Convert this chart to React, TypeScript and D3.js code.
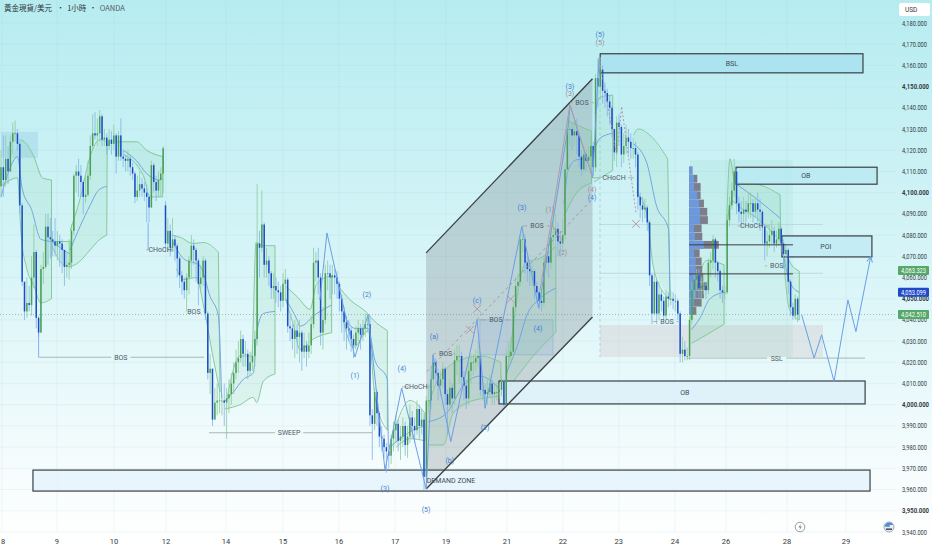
import * as d3 from "d3";

type Bar = [number, number, number, number?]; // close, high, low, open when it gapped
type Pt = [number, number]; // bar number, price

const bars08: Bar[] = [[4112,4120,4098,4103],[4106,4127,4098],[4116,4127,4103],[4110,4122,4104],[4124,4127,4110],[4128,4133,4118],[4128,4134,4124],[4123,4130,4120],[4094,4124,4090],[4058,4095,4056],[4044,4058,4040],[4048,4060,4041],[4047,4056,4044],[4060,4070,4042],[4072,4085,4055],[4041,4073,4036],[4034,4042,4032],[4064,4066,4034],[4065,4072,4057],[4084,4090,4064],[4079,4090,4066],[4078,4088,4069],[4077,4082,4070],[4075,4088,4070]];
const bars09: Bar[] = [[4077,4082,4068],[4076,4080,4065],[4073,4078,4062],[4065,4073,4056],[4066,4072,4060],[4067,4078,4059],[4082,4085,4064],[4108,4109,4080],[4110,4113,4100],[4108,4116,4098],[4105,4113,4098],[4098,4106,4090],[4099,4108,4095],[4108,4115,4098],[4122,4127,4106],[4128,4137,4120],[4127,4138,4125],[4128,4135,4122],[4136,4139,4124],[4125,4137,4122],[4126,4130,4122],[4122,4128,4118],[4125,4130,4120],[4123,4129,4118]];
const bars10: Bar[] = [[4127,4132,4120],[4117,4128,4109],[4127,4129,4115],[4117,4135,4115],[4116,4120,4112],[4115,4118,4110],[4116,4120,4110],[4112,4118,4108],[4109,4114,4106],[4098,4110,4095],[4101,4108,4096],[4104,4110,4098],[4102,4107,4098],[4100,4105,4096],[4098,4104,4086],[4093,4099,4086],[4113,4115,4093],[4105,4114,4100],[4101,4108,4096],[4106,4110,4098],[4109,4112,4098],[4121,4122,4100]];
const bars12: Bar[] = [[4076,4096,4072,4094],[4082,4088,4072],[4074,4085,4070],[4078,4088,4072],[4075,4080,4068],[4069,4076,4060],[4061,4070,4055],[4058,4063,4052],[4054,4060,4050],[4060,4062,4044],[4068,4070,4052],[4075,4080,4060],[4073,4078,4066],[4068,4074,4058],[4057,4069,4047],[4060,4066,4054],[4068,4070,4056],[4043,4069,4040],[4015,4044,4012],[4017,4024,4005],[3993,4017,3990],[4001,4008,3993],[4002,4010,3995],[4002,4006,3996],[4002,4005,3995]];
const bars14: Bar[] = [[4001,4010,3990],[4003,4008,3984],[4005,4012,3996],[4010,4015,4000],[4015,4020,4005],[4020,4026,4012],[4022,4030,4015],[4031,4035,4020],[4024,4033,4018],[4024,4030,4018],[4016,4026,4012],[4020,4025,4014],[4023,4028,4016],[4031,4035,4018],[4076,4104,4028],[4074,4082,4060],[4085,4101,4072],[4066,4086,4060],[4068,4074,4060],[4062,4070,4056],[4055,4063,4050],[4056,4062,4050],[4054,4060,4048],[4053,4058,4046],[4049,4056,4044]];
const bars15: Bar[] = [[4057,4062,4046],[4059,4064,4050],[4037,4060,4034],[4036,4042,4030],[4031,4038,4026],[4035,4040,4022],[4032,4038,4024],[4034,4040,4020],[4025,4035,4016],[4028,4034,4022],[4025,4030,4018],[4028,4034,4022],[4038,4042,4024],[4067,4074,4036],[4068,4072,4058],[4060,4074,4052],[4034,4062,4028],[4040,4046,4026],[4062,4066,4038],[4062,4068,4054],[4060,4066,4050],[4061,4066,4052],[4060,4064,4052],[4057,4063,4050]];
const bars16: Bar[] = [[4050,4058,4044],[4044,4052,4034],[4039,4046,4030],[4036,4042,4026],[4035,4040,4030],[4031,4037,4025],[4028,4033,4022],[4034,4037,4026],[4036,4040,4030],[4033,4038,4026],[4036,4040,4030],[4038,4043,4032],[4038,4042,4034],[3995,4042,3990],[3991,3998,3974],[4006,4008,3988],[3996,4007,3990],[3985,3997,3980],[3984,3990,3978],[3980,3986,3975],[3978,3982,3968],[3976,3980,3970],[3984,3986,3972],[3988,3992,3978]];
const bars17: Bar[] = [[3991,3995,3982],[3983,3993,3978],[3985,3990,3974],[3990,3994,3980],[3981,3992,3976],[3985,3990,3975],[3994,4000,3982],[3990,3997,3984],[3988,3994,3982],[3998,4002,3986],[3990,4000,3984],[3993,3998,3986],[3966,3996,3960],[4002,4004,3964],[4002,4010,3996],[4012,4018,3998],[4020,4024,4008],[4015,4022,4010],[4009,4017,4002],[4012,4016,4004],[4017,4020,4008],[4005,4018,4000]];
const bars19: Bar[] = [[4000,4007,3986],[4008,4012,3998],[4003,4010,3996],[4021,4026,4000],[4023,4028,4014],[4023,4028,4010],[4013,4025,4008],[4009,4016,4002],[4003,4012,3998],[4016,4020,4000],[4020,4024,4010],[4020,4024,4014],[4022,4026,4016],[4023,4030,4018],[4007,4025,4004],[4007,4012,4002],[4005,4010,3998],[4006,4012,4000],[4010,4014,4004],[4005,4012,4000],[4006,4010,4000],[4006,4010,4002],[4007,4010,4003],[4011,4014,4004],[4000,4012,3999]];
const bars21: Bar[] = [[4023,4026,3999],[4023,4030,4018],[4025,4032,4020],[4046,4048,4022],[4056,4060,4044],[4058,4062,4052],[4078,4080,4056],[4078,4084,4072],[4067,4080,4062],[4064,4070,4058],[4063,4068,4056],[4063,4066,4056],[4056,4064,4050],[4053,4058,4048],[4049,4054,4045],[4048,4054,4044],[4067,4070,4046],[4070,4074,4062],[4067,4076,4060],[4079,4084,4064],[4080,4090,4074],[4083,4090,4074],[4077,4086,4070],[4076,4082,4070],[4080,4088,4072]];
const bars22: Bar[] = [[4111,4114,4078],[4130,4135,4108],[4130,4140,4122],[4127,4133,4120],[4129,4134,4122],[4127,4135,4118],[4117,4128,4112],[4111,4120,4108],[4118,4122,4110],[4115,4120,4110],[4117,4122,4112],[4122,4126,4112],[4112,4124,4108],[4154,4156,4110],[4150,4163,4140],[4158,4164,4144],[4148,4160,4142],[4147,4152,4140],[4143,4149,4136],[4140,4146,4132],[4130,4141,4126],[4119,4130,4115],[4133,4136,4112]];
const bars23: Bar[] = [[4131,4137,4122],[4118,4132,4112],[4122,4128,4114],[4126,4132,4118],[4124,4130,4118],[4121,4128,4116],[4121,4126,4116],[4118,4124,4112],[4098,4119,4092],[4094,4100,4088],[4092,4098,4086],[4093,4097,4088],[4086,4094,4082],[4061,4087,4056],[4043,4062,4038],[4058,4063,4042],[4043,4059,4038],[4052,4058,4040],[4049,4054,4044],[4042,4051,4040],[4051,4054,4040],[4050,4053,4046],[4050,4054,4047],[4049,4053,4045]];
const bars24: Bar[] = [[4049,4052,4044],[4043,4050,4040],[4024,4044,4020],[4026,4032,4020],[4023,4030,4021],[4023,4027,4021],[4040,4042,4021],[4054,4058,4038],[4059,4062,4050],[4061,4064,4054],[4055,4064,4050],[4056,4060,4050],[4056,4062,4052],[4054,4058,4050],[4067,4069,4052],[4068,4072,4060],[4078,4080,4064],[4067,4079,4060],[4063,4068,4058],[4054,4064,4050],[4053,4056,4048],[4053,4056,4050]];
const bars26: Bar[] = [[4087,4090,4052],[4094,4098,4084],[4101,4105,4092],[4110,4116,4098],[4095,4111,4090],[4091,4098,4086],[4090,4096,4084],[4092,4098,4086],[4091,4096,4086],[4095,4100,4088],[4095,4100,4088],[4091,4097,4086],[4095,4098,4088],[4092,4100,4086],[4091,4097,4082],[4084,4092,4076],[4076,4085,4068],[4077,4082,4070],[4080,4084,4074],[4082,4087,4076],[4076,4084,4072],[4078,4082,4074],[4083,4086,4075],[4076,4084,4072],[4071,4078,4064],[4073,4076,4066]];
const bars28: Bar[] = [[4058,4074,4052],[4046,4059,4042],[4042,4048,4040],[4050,4052,4040],[4042.5,4051,4039]];

const priceTicks = [4180,4170,4160,4150,4140,4130,4120,4110,4100,4090,4080,4070,4060,4050,4040,4030,4020,4010,4000,3990,3980,3970,3960,3950,3940];
const dayLabels = ["8","9","10","12","14","15","16","17","19","21","22","23","24","26","28","29"];
const dayBars = [0.4,23.8,48.1,70.2,95.7,120,143.8,167.7,189.4,215.3,239.1,262.9,286.8,308.5,334.5,359.6];

// anchored channels: upper, lower, middle
const channels: [Pt[], Pt[], Pt[]][] = [
  [[[7.8,4125],[9.9,4124],[14,4117],[17.6,4107],[21.5,4106]], [[0,4103],[7,4107],[8.5,4081],[11,4064],[14,4056],[17,4048],[21.5,4050]], [[0,4098],[3,4109],[7,4117],[9,4102],[13,4092],[17,4078],[21.5,4077]]],
  [[[21.6,4077],[29.4,4077]], [[21.6,4075],[27.2,4065.5],[29.4,4065]], [[21.6,4077],[26.5,4073],[29.4,4071]]],
  [[[29.4,4082],[33.6,4097],[37.9,4117],[42.1,4125],[45.2,4124]], [[29.4,4065],[32.9,4067],[37.9,4073],[42.1,4078],[45,4080]], [[29.4,4073],[33.6,4084],[37.9,4094],[41.4,4101],[45,4103]]],
  [[[49.2,4124],[53.5,4124],[57.7,4124],[62,4120],[68.8,4117]], [[52,4118],[60.6,4108],[63.4,4098],[68.8,4098]], [[52,4120],[57.7,4115],[62,4109],[67.6,4106],[68.8,4107]]],
  [[[72.6,4080],[76.2,4079],[81.8,4076],[86.1,4076.5],[92.5,4072]], [[74.7,4064],[77.6,4059],[83.3,4060],[86.1,4047],[90.4,4021.5],[93.2,4006]], [[73.3,4076.5],[77.6,4069],[84.7,4065.5],[89,4051],[92.5,4042],[93.9,4003]]],
  [[[96,4002],[101.7,4023],[106.7,4023],[108.5,4076.5],[111.6,4075],[116.6,4075]], [[95.3,3998],[101.7,4000],[107.4,4003.5],[108.8,4001],[111.6,4011],[116.6,4014.5]], [[94.6,4001],[98.9,4006],[103.1,4012],[107.4,4015],[108.8,4034],[111.6,4043],[116.6,4044]]],
  [[[121,4056],[126,4051],[131.5,4045],[134.3,4057],[140.7,4061]], [[121,4050],[124.8,4036],[127.2,4026],[132.9,4031],[140.7,4034]], [[121,4050],[126,4040],[127.2,4037],[134.3,4043],[140.7,4047]]],
  [[[143.5,4056],[148.5,4049.5],[155.6,4043.5],[158.4,4040],[164.4,4035]], [[145.6,4040],[149.9,4027],[156.3,4035],[159.1,4004],[164.4,3988]], [[145.6,4043],[150.6,4036],[156.3,4036],[159.1,4021],[164.4,4012],[164.8,3980]]],
  [[[165.2,3980],[168.3,3991],[174,4002],[180.4,3996]], [[168.3,3980],[174,3984],[180.4,3983]], [[165.5,3980],[169.8,3984],[175.4,3988],[180,3990]]],
  [[[181.8,3999],[184,4007],[189.6,4017],[195.3,4021],[203.8,4023],[212.7,4020]], [[181.8,3981],[188.2,3981],[192.4,3996],[200.9,4002],[212.7,4004]], [[181.8,3992],[189.6,3996],[196.7,4009],[203.8,4013.5],[212.7,4007]]],
  [[[214.4,4007],[218,4037],[219.4,4049],[223.7,4067.5],[229.3,4069],[236.1,4074.6]], [[215.1,4007],[220.8,4015],[226.5,4023],[236.1,4034]], [[215.1,4015],[220.1,4029],[223.7,4042],[229.3,4050],[236.1,4055]]],
  [[[241.4,4134],[245,4132],[251.3,4129]], [[239.6,4089],[245,4100],[251.3,4104.5]], [[239.6,4095],[241.4,4111],[245,4115.5],[251.3,4116]]],
  [[[252.8,4137.5],[254.9,4145],[260.3,4146]], [[252.3,4105],[260.3,4110.5]], [[252,4118.6],[254.9,4125.7],[260.3,4128]]],
  [[[269.1,4127],[271.2,4130],[276.2,4127],[283.7,4116]], [[270.5,4100],[274.8,4090],[277.6,4065],[283.3,4051],[284.7,4049.5]], [[269.1,4123],[274.8,4114],[279,4093.5],[284,4083],[284.7,4051]]],
  [[[293.2,4040],[300.3,4068],[307.7,4066]], [[293.9,4029],[300.3,4033],[307.7,4038]], [[293.9,4035.5],[297.5,4041],[301.7,4050],[307.7,4053]]],
  [[[308.8,4087],[310.2,4116],[312.3,4105],[321.6,4104],[331.5,4099]], [[308.8,4084],[310.9,4096],[314.5,4093],[321.6,4088],[331.8,4077]], [[313,4104],[321.6,4097],[331.5,4088]]],
  [[[332.9,4075],[335.8,4067],[339.7,4063]], [[332.9,4071],[335.5,4045],[339.7,4040]], [[332.9,4071],[335.8,4057.5],[339.7,4053]]],
];

const waveDown: Pt[] = [[135.7,4049.4],[138.7,4081],[150.6,4022.5],[156.2,4042.5],[163.4,3969.2],[170.5,4007.9],[180.9,3960.3]];
const waveUp: Pt[] = [[180.9,3960.3],[183.8,4023.5],[191.4,3982.6],[202.6,4040],[206,3998.5],[221.6,4084],[228.8,4045.7],[241.3,4130.6],[242.1,4141.4],[251.8,4107],[254.5,4163.6]];
const wavePink: Pt[] = [[229.4,4054],[242.1,4141.4],[251.8,4107]];
const wavePinkSmall: Pt[] = [[233.6,4086.4],[239,4076.9]];
const wavePinkDash: Pt[] = [[254.5,4163.6],[262,4117.8],[264.1,4140.6],[270.2,4090.5]];
const trendDash: Pt[] = [[181.2,4015.6],[251.4,4096.6]];
const projection: Pt[] = [[340.7,4042.4],[346,4022],[349.2,4033],[354.5,4011],[360.4,4049.4],[363.8,4034.5],[370.1,4069.9]];
const channelShape: Pt[] = [[180.9,4071.6],[251.7,4153.7],[251.7,4041.4],[180.9,3960.3]];

const zoneNames = ["BSL","OB","POI","OB","DEMAND ZONE"];
const zoneBars: Pt[] = [[255,366.8],[312.8,372.8],[332.3,370.6],[211.9,367.7],[13.6,369.8]];
const zonePrices: Pt[] = [[4165.5,4156.5],[4112,4104],[4079.6,4069.7],[4011.2,4000.4],[3969.2,3959.3]];
const zoneFills = ["#a6e0ef","#b8e8f2","#bfeaf3","#dcf0fa","#e3f3fb"];
const zoneTextBars = [311,342.5,351,291,191.5];

// structure labels: name, start bar, end bar, label bar, price
const structure: [string, number, number, number, number][] = [
  ["BOS",16,86.4,51,4022.4],["SWEEP",88.5,157.9,122.6,3986.8],["CHoCH",62.6,71.5,67.7,4073],["BOS",77.9,86.4,82.1,4043.8],
  ["CHoCH",173.2,180.9,176.6,4008.4],["BOS",183.8,192.3,189.2,4024],["BOS",202.6,216.6,210.6,4040],["BOS",221.7,234.5,228.1,4084.3],
  ["BOS",242.1,252.3,247.2,4142.4],["CHoCH",251.9,269.4,260.9,4107],["BOS",277.4,289,283.4,4039.2],["CHoCH",314.5,327.2,319.4,4084.3],
  ["BOS",325.1,334.9,330.1,4065.5],["SSL",291.9,367.7,330.1,4022],
];
const blueLabels: [string, number, number][] = [["(2)",155.7,4051.8],["(1)",150.6,4014],["(4)",170.6,4016.9],["(3)",163.4,3960.3],["(5)",180.9,3950.8],["(a)",184.3,4032],["(b)",191,3973.5],["(c)",202.6,4049],["(2)",206,3989.5],["(4)",228.5,4035.8],["(3)",221.7,4092.8],["(3)",242.1,4149.9],["(5)",254.9,4174.4],["(4)",251.5,4097.5]];
const pinkLabels: [string, number, number][] = [["(3)",242.1,4146.6],["(5)",254.9,4170.7],["(4)",251.5,4101.3],["(1)",233.6,4091.9],["(2)",239.1,4071.6]];
const crosses: Pt[] = [[202.6,4045.2],[199.6,4035.3],[216.9,4049.9],[270.2,4085.3]];

const profileBlue = [10,15,15,25,30,33,33,15,18,45,15,20,20,25,22,22,15,10];
const profileTotal = [10,25,35,35,45,55,57,38,40,90,32,38,40,42,55,45,38,22];

const lastPrices = [4063.323,4053.099,4042.51];
const lastColors = ["#55a868","#1f49c8","#55a868"];

const W = 932, H = 550;
const allBars = [...bars08,...bars09,...bars10,...bars12,...bars14,...bars15,...bars16,...bars17,...bars19,...bars21,...bars22,...bars23,...bars24,...bars26,...bars28];
const x = d3.scaleLinear().domain([0, 339]).range([1, 797.65]);
const y = d3.scaleLinear().domain([3940, 4180]).range([532, 23]);
const fmt = d3.format(",.3f");
const pen = d3.line<Pt>().x(d => x(d[0])).y(d => y(d[1]));
const smooth = d3.line<Pt>().x(d => x(d[0])).y(d => y(d[1])).curve(d3.curveMonotoneX);
const rows = d3.scaleBand<number>().domain(d3.range(profileBlue.length)).range([y(4112.3), y(4042.4)]).paddingInner(0.06);
const vol = d3.scaleLinear().domain([0, 100]).range([0, 33]);

const TXT = "Roboto, sans-serif";
const GREEN = "#4a9e58", BLUE = "#1c4cc8", WAVE = "#6a9fe4", BAND = "#7cc592", PINK = "#b59aa6";

function Box({ b, p, fill, opacity, stroke, sw }: { b: Pt; p: Pt; fill: string; opacity?: number; stroke?: string; sw?: number }) {
  return <rect x={x(b[0])} y={y(p[0])} width={x(b[1]) - x(b[0])} height={y(p[1]) - y(p[0])} fill={fill} fillOpacity={opacity} stroke={stroke} strokeWidth={sw} />;
}

export default function App() {
  return (
    <svg width={W} height={H} viewBox={`0 0 ${W} ${H}`} style={{ position: "fixed", left: 0, top: 0 }} fontFamily={TXT}>
      <defs>
        <linearGradient id="bg" x1="0" y1="0" x2="0" y2="1">
          <stop offset="0" stopColor="#b6ecf0" />
          <stop offset="0.5" stopColor="#d9f5f8" />
          <stop offset="0.95" stopColor="#fdfefe" />
          <stop offset="1" stopColor="#ffffff" />
        </linearGradient>
        <marker id="arrow" viewBox="0 0 10 10" refX="9" refY="5" markerWidth="7" markerHeight="7" orient="auto">
          <path d="M1,1 L9,5 L1,9" fill="none" stroke={WAVE} strokeWidth="1.4" />
        </marker>
      </defs>
      <rect width={W} height={H} fill="url(#bg)" />

      {/* grid */}
      {priceTicks.map(p => <line key={p} x1={0} x2={896} y1={y(p)} y2={y(p)} stroke="#9cc4cc" strokeOpacity={0.14} />)}
      {dayBars.map(b => <line key={b} x1={x(b)} x2={x(b)} y1={0} y2={532} stroke="#9cc4cc" strokeOpacity={0.14} />)}
      <line x1={0} x2={896} y1={y(4042.51)} y2={y(4042.51)} stroke="#8a9a9e" strokeWidth={0.7} strokeDasharray="1 2" />

      {/* shaded areas */}
      <Box b={[0, 15.7]} p={[4128.7, 4116.4]} fill="#6fb0dc" opacity={0.22} />
      <path d={pen(channelShape) + "Z"} fill="#70787c" fillOpacity={0.27} />
      <Box b={[203.8, 234.9]} p={[4040, 4023.5]} fill="#6f9fd8" opacity={0.14} stroke="#7fa8dc" sw={0.5} />
      <Box b={[254.9, 349.8]} p={[4037.6, 4022.5]} fill="#d0c0c4" opacity={0.32} />
      <Box b={[293.2, 337]} p={[4115.5, 4022.5]} fill="#62c8a8" opacity={0.1} />
      <line x1={x(254.9)} x2={x(349.8)} y1={y(4085)} y2={y(4085)} stroke="#a8cdd4" strokeWidth={0.6} />
      <line x1={x(254.9)} x2={x(349.8)} y1={y(4062)} y2={y(4062)} stroke="#a8cdd4" strokeWidth={0.6} />
      <line x1={x(254.9)} x2={x(254.9)} y1={y(4165)} y2={y(4022.5)} stroke="#9cc8e0" strokeDasharray="3 3" strokeWidth={0.8} />

      {/* channels */}
      {channels.map((c, i) => (
        <g key={i} fill="none">
          <path d={pen([...c[0], ...[...c[1]].reverse()]) + "Z"} fill="#58b878" fillOpacity={0.1} stroke="none" />
          <path d={smooth(c[0])!} stroke={BAND} strokeWidth={0.9} />
          <path d={smooth(c[1])!} stroke={BAND} strokeWidth={0.9} />
          <line x1={x(c[0][c[0].length - 1][0])} x2={x(c[1][c[1].length - 1][0])} y1={y(c[0][c[0].length - 1][1])} y2={y(c[1][c[1].length - 1][1])} stroke={BAND} strokeWidth={0.9} />
          <path d={smooth(c[2])!} stroke={WAVE} strokeWidth={0.9} />
        </g>
      ))}

      {/* zones sit under the candles */}
      {zoneNames.map((n, i) => (
        <Box key={i} b={zoneBars[i]} p={zonePrices[i]} fill={zoneFills[i]} opacity={0.8} stroke="#3a3f44" sw={1.2} />
      ))}

      {/* volume profile */}
      {profileBlue.map((v, i) => (
        <g key={i}>
          <rect x={x(292.8)} y={rows(i)} width={vol(profileTotal[i])} height={rows.bandwidth()} fill="#7d7d8c" />
          <rect x={x(292.8)} y={rows(i)} width={vol(v)} height={rows.bandwidth()} fill="#6c98dc" />
        </g>
      ))}

      {/* candles */}
      {allBars.map((d, i) => {
        const open = d[3] ?? (i ? allBars[i - 1][0] : d[0]);
        const up = d[0] >= open;
        const top = y(Math.max(open, d[0]));
        return (
          <g key={i}>
            <line x1={x(i)} x2={x(i)} y1={y(d[1])} y2={y(d[2])} stroke={up ? "#8acb9c" : "#82b2ea"} strokeWidth={0.8} />
            <rect x={x(i) - 0.75} width={1.5} y={top} height={Math.max(y(Math.min(open, d[0])) - top, 0.8)} fill={up ? GREEN : BLUE} />
          </g>
        );
      })}

      <g stroke="#3a3f44" strokeWidth={1.3}>
        <path d={pen(channelShape.slice(0, 2))!} fill="none" />
        <path d={pen(channelShape.slice(2))!} fill="none" />
      </g>
      {[4075.4, 4061.7].map(p => <line key={p} x1={x(292.8)} x2={x(337)} y1={y(p)} y2={y(p)} stroke="#3a3f44" strokeWidth={1} />)}

      {/* wave drawings */}
      <g fill="none" strokeWidth={1}>
        <path d={pen(waveDown)!} stroke={WAVE} />
        <path d={pen(waveUp)!} stroke={WAVE} />
        <path d={pen(wavePink)!} stroke={PINK} />
        <path d={pen(wavePinkSmall)!} stroke={PINK} />
        <path d={pen(wavePinkDash)!} stroke={PINK} strokeDasharray="2 2" />
        <path d={pen(trendDash)!} stroke="#8b9096" strokeDasharray="3 3" strokeWidth={0.8} />
        <path d={pen(projection)!} stroke={WAVE} markerEnd="url(#arrow)" />
      </g>
      <line x1={x(16)} x2={x(16)} y1={y(4033.9)} y2={y(4022.4)} stroke={WAVE} strokeWidth={0.8} />
      <line x1={x(62.6)} x2={x(62.6)} y1={y(4085.8)} y2={y(4073)} stroke={WAVE} strokeWidth={0.8} />

      {/* structure lines with a gap round the word */}
      {structure.map(([name, a, b, at, p], i) => {
        const half = name.length * 2.2 + 3;
        const yy = y(p);
        return (
          <g key={i}>
            <line x1={x(a)} x2={x(at) - half} y1={yy} y2={yy} stroke="#9aa4a8" strokeWidth={0.8} />
            <line x1={x(at) + half} x2={x(b)} y1={yy} y2={yy} stroke="#9aa4a8" strokeWidth={0.8} />
            <text x={x(at)} y={yy + 2.5} fontSize={7} textAnchor="middle" fill="#4f5a66">{name}</text>
          </g>
        );
      })}

      {crosses.map((c, i) => (
        <g key={i} stroke={PINK} strokeWidth={1}>
          <line x1={x(c[0]) - 4} x2={x(c[0]) + 4} y1={y(c[1]) - 4} y2={y(c[1]) + 4} />
          <line x1={x(c[0]) - 4} x2={x(c[0]) + 4} y1={y(c[1]) + 4} y2={y(c[1]) - 4} />
        </g>
      ))}
      {blueLabels.map(([t, b, p], i) => <text key={i} x={x(b)} y={y(p) + 2.5} fontSize={7} textAnchor="middle" fill="#3f7fd0">{t}</text>)}
      {pinkLabels.map(([t, b, p], i) => <text key={i} x={x(b)} y={y(p) + 2.5} fontSize={7} textAnchor="middle" fill="#a08e98">{t}</text>)}

      {zoneNames.map((n, i) => (
        <text key={i} x={x(zoneTextBars[i])} y={(y(zonePrices[i][0]) + y(zonePrices[i][1])) / 2 + 2.5} fontSize={7} textAnchor="middle" fill="#3f4a55">{n}</text>
      ))}

      {/* axes */}
      {priceTicks.map(p => (
        <text key={p} x={902} y={y(p) + 2.5} fontSize={6.6} fontWeight={p % 50 === 0 ? 700 : 400} fill="#333a40" textLength={p % 50 === 0 ? 27 : 25} lengthAdjust="spacingAndGlyphs">{fmt(p)}</text>
      ))}
      {dayLabels.map((d, i) => (
        <text key={d} x={Math.max(x(dayBars[i]), 3)} y={544} fontSize={7.5} textAnchor="middle" fill="#333a40">{d}</text>
      ))}
      {lastPrices.map((p, i) => (
        <g key={p}>
          <rect x={898} y={y(p) - 4.5} width={31} height={9} rx={1} fill={lastColors[i]} />
          <text x={901} y={y(p) + 2.4} fontSize={6.6} fill="#fff" textLength={25} lengthAdjust="spacingAndGlyphs">{fmt(p)}</text>
        </g>
      ))}
      <rect x={899} y={3} width={31} height={13} rx={2} fill="#fff" />
      <text x={905} y={12} fontSize={6.5} fill="#333a40">USD</text>

      <text x={4} y={11} fontSize={7.5} fill="#2f353a" fontFamily="'Noto Sans CJK TC', sans-serif">黃金現貨/美元 <tspan dx={3}>•</tspan><tspan dx={3}>1小時</tspan><tspan dx={3}>•</tspan><tspan dx={3} fill="#555d65">OANDA</tspan></text>

      {/* bottom icons */}
      <circle cx={800} cy={527} r={4.8} fill="#fff" stroke="#7c8796" strokeWidth={0.8} />
      <path d="M801 523.6 L798.6 527.4 L800.4 527.4 L799.4 530.4 L801.8 526.4 L800 526.4 Z" fill="#6c7684" />
      <circle cx={889} cy={527} r={5} fill="#e9eef3" stroke="#8b95a3" strokeWidth={0.8} />
      <path d="M884.6 526.6 A4.6 4.6 0 0 1 893.2 525 L889.6 525 L889.6 527 Z" fill="#4f8bd8" />
      <rect x={886} y={528.4} width={6} height={1.6} fill="#4b5360" />
    </svg>
  );
}
